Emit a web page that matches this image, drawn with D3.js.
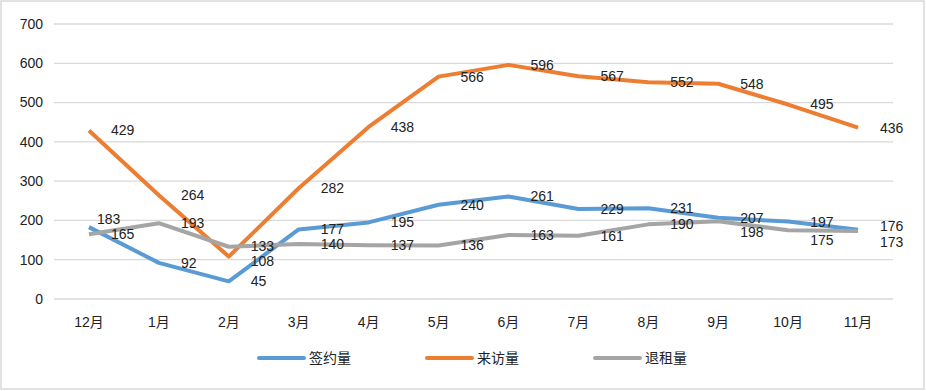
<!DOCTYPE html>
<html>
<head>
<meta charset="utf-8">
<script src="https://cdn.jsdelivr.net/npm/d3@7"></script>
<style>
  body { margin: 0; background: #fff; }
  text { font-family: "Liberation Sans", "Noto Sans CJK SC", sans-serif; fill: #222; }
</style>
</head>
<body>
<svg id="chart" width="926" height="391"></svg>
<script>
var width = 926, height = 391

// data
var months = ["12月","1月","2月","3月","4月","5月","6月","7月","8月","9月","10月","11月"]
var signed = [183, 92, 45, 177, 195, 240, 261, 229, 231, 207, 197, 176]   // 签约量
var visits = [429, 264, 108, 282, 438, 566, 596, 567, 552, 548, 495, 436] // 来访量
var leaves = [165, 193, 133, 140, 137, 136, 163, 161, 190, 198, 175, 173] // 退租量
var seriesNames = ["签约量", "来访量", "退租量"]
var yTicks = [0, 100, 200, 300, 400, 500, 600, 700]

var colors = ["#5b9bd5", "#ed7d31", "#a5a5a5"]
var series = [signed, visits, leaves]

// excel nudged a few labels to avoid overlaps
var nudge = {
  "0-0": [-14, -8],
  "0-11": [0, -4],
  "1-2": [0, 5],
  "2-2": [0, -1],
  "2-9": [0, 11],
  "2-10": [0, 10],
  "2-11": [0, 11]
}

var svg = d3.select("#chart")

svg.append("rect")
  .attr("x", 1).attr("y", 1)
  .attr("width", width - 3).attr("height", height - 3)
  .attr("fill", "#fff")
  .attr("stroke", "#d9d9d9")
  .attr("stroke-width", 1.5)

var plotLeft = 54, plotRight = 893, plotTop = 24, plotBottom = 299

var x = d3.scaleBand().domain(months).range([plotLeft, plotRight])
var y = d3.scaleLinear().domain([0, 700]).range([plotBottom, plotTop])
var cx = function(m){ return x(m) + x.bandwidth() / 2 }

// gridlines
svg.append("g").selectAll("line")
  .data(yTicks)
  .join("line")
  .attr("x1", plotLeft).attr("x2", plotRight)
  .attr("y1", d => y(d)).attr("y2", d => y(d))
  .attr("stroke", "#d9d9d9")
  .attr("stroke-width", 1.3)

// y axis labels
svg.append("g").selectAll("text")
  .data(yTicks)
  .join("text")
  .attr("x", 43)
  .attr("y", d => y(d))
  .attr("dy", "0.35em")
  .attr("text-anchor", "end")
  .attr("font-size", "14px")
  .text(d => d)

// x axis labels
svg.append("g").selectAll("text")
  .data(months)
  .join("text")
  .attr("x", d => cx(d))
  .attr("y", 322)
  .attr("dy", "0.35em")
  .attr("text-anchor", "middle")
  .attr("font-size", "14px")
  .text(d => d)

var line = d3.line()
  .x((d, i) => cx(months[i]))
  .y(d => y(d))

series.forEach(function(vals, s){
  svg.append("path")
    .datum(vals)
    .attr("d", line)
    .attr("fill", "none")
    .attr("stroke", colors[s])
    .attr("stroke-width", 4)
    .attr("stroke-linejoin", "round")
})

series.forEach(function(vals, s){
  svg.append("g").selectAll("text")
    .data(vals)
    .join("text")
    .attr("x", (d, i) => cx(months[i]) + 22 + (nudge[s + "-" + i] || [0, 0])[0])
    .attr("y", (d, i) => y(d) + (nudge[s + "-" + i] || [0, 0])[1])
    .attr("dy", "0.35em")
    .attr("font-size", "14px")
    .text(d => d)
})

// legend
var legendX = [259, 427, 595]
var legend = svg.append("g").selectAll("g")
  .data(seriesNames)
  .join("g")
  .attr("transform", (d, i) => "translate(" + legendX[i] + ",358)")

legend.append("line")
  .attr("x1", 0).attr("x2", 45)
  .attr("stroke", (d, i) => colors[i])
  .attr("stroke-width", 4)
  .attr("stroke-linecap", "round")

legend.append("text")
  .attr("x", 50)
  .attr("dy", "0.35em")
  .attr("font-size", "14px")
  .text(d => d)
</script>
</body>
</html>
